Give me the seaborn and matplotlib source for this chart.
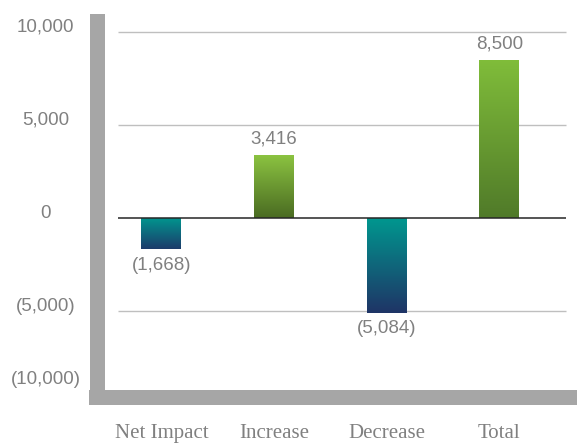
import numpy as np
import pandas as pd
import matplotlib
matplotlib.use("Agg")
import matplotlib.pyplot as plt
import matplotlib.transforms as mtransforms
from matplotlib.colors import LinearSegmentedColormap
import seaborn as sns

# data
categories = ["Net Impact", "Increase", "Decrease", "Total"]
values = [-1668, 3416, -5084, 8500]
value_labels = ["(1,668)", "3,416", "(5,084)", "8,500"]
y_ticks = [10000, 5000, 0, -5000]
y_tick_labels = ["10,000", "5,000", "0", "(5,000)"]
y_bottom_label = "(10,000)"

df = pd.DataFrame({"category": categories, "value": values})

sns.set_theme(style="white")
plt.rcParams["font.family"] = ["Liberation Sans", "DejaVu Sans"]

txt = "#808080"
band = "#a6a6a6"

fig = plt.figure(figsize=(5.77, 4.44), dpi=100)
W, H = 577, 444
ax = fig.add_axes([96.5 / W, (H - 396.5) / H, (W - 96.5) / W, (396.5 - 20.8) / H])

sns.barplot(data=df, x="category", y="value", ax=ax, width=0.355,
            color="white", saturation=1, errorbar=None)

# gradient fills clipped to each bar
gradients = [
    ("#00978f", "#1d3b6b"),
    ("#8cc441", "#4a6b22"),
    ("#00978f", "#1f3466"),
    ("#80bd3a", "#507a29"),
]
for p, (top, bot) in zip(ax.patches, gradients):
    x0, y0, w, h = p.get_x(), p.get_y(), p.get_width(), p.get_height()
    ylo, yhi = min(y0, y0 + h), max(y0, y0 + h)
    cmap = LinearSegmentedColormap.from_list("g", [bot, top])
    grad = np.linspace(0, 1, 256).reshape(-1, 1)
    im = ax.imshow(grad, cmap=cmap, extent=[x0, x0 + w, ylo, yhi],
                   origin="lower", aspect="auto", zorder=3)
    im.set_clip_path(p)
    p.set_facecolor("none")
    p.set_edgecolor("none")

# grid lines and zero line
ax.hlines([10000, 5000, -5000], -0.385, 3.593, color="#bfbfbf", lw=1, zorder=1)
ax.hlines(0, -0.385, 3.593, color="#262626", lw=1.1, zorder=4)

ax.set_xlim(-0.576, 3.691)
ax.set_ylim(-9581, 10618)

# thick gray frame
for s in ["top", "right"]:
    ax.spines[s].set_visible(False)
for s in ["left", "bottom"]:
    ax.spines[s].set_color(band)
    ax.spines[s].set_linewidth(15 * 72 / 100)

# y tick labels
ax.set_yticks(y_ticks)
ax.set_yticklabels(y_tick_labels)
ax.tick_params(axis="y", length=0, pad=36.7, labelsize=13.5, labelcolor=txt)
up = mtransforms.ScaledTranslation(0, 7 / 100, fig.dpi_scale_trans)
for lab in ax.get_yticklabels():
    lab.set_horizontalalignment("center")
    lab.set_transform(lab.get_transform() + up)
ytrans = mtransforms.blended_transform_factory(ax.transAxes, ax.transData)
ax.annotate(y_bottom_label, xy=(0, -10000), xycoords=ytrans, xytext=(-51, 25),
            textcoords="offset pixels", ha="center", va="center",
            fontsize=13.5, color=txt, annotation_clip=False)

# x tick labels
ax.set_xlabel("")
ax.set_ylabel("")
ax.tick_params(axis="x", length=0, pad=20, labelsize=15, labelcolor=txt)
for lab in ax.get_xticklabels():
    lab.set_family(["Liberation Serif", "DejaVu Serif"])

# value labels
for i, (v, s) in enumerate(zip(values, value_labels)):
    off = 16 if v > 0 else -16
    ax.annotate(s, xy=(i, v), xytext=(0, off), textcoords="offset pixels",
                ha="center", va="center", fontsize=13.5, color=txt, zorder=5)

fig.savefig("out.png", dpi=100)
